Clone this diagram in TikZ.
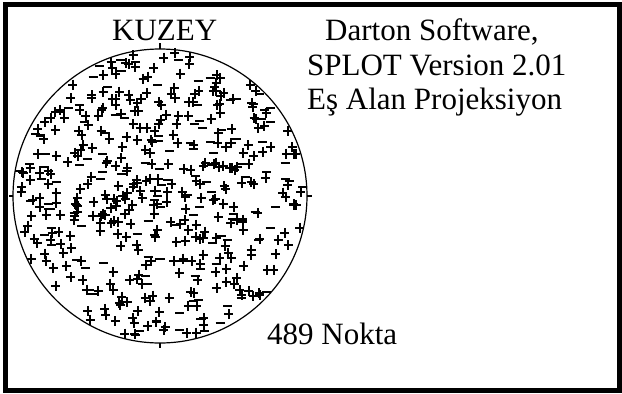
\documentclass[tikz,border=0pt]{standalone}
\usepackage{fontspec}
\setmainfont{Liberation Serif}
\begin{document}
\begin{tikzpicture}[x=1pt,y=-1pt,
  lbl/.style={font=\fontsize{31}{34}\selectfont, inner sep=0pt, anchor=base west},
  frame/.style={line width=5pt},
  rim/.style={line width=1.2pt},
  crossmark/.style={line width=2pt}]
\useasboundingbox (0,0) rectangle (622,394);
\draw[frame] (5.5,4.5) rectangle (619.5,390);
% stereonet circle
\draw[rim] (160,196) circle (147pt);
\draw[rim] (160,49) -- (160,43);
\draw[rim] (160,343) -- (160,348);
\draw[rim] (307,196) -- (312,196);
\draw[rim] (13,196) -- (9,196);
% data points
\pgfmathsetseed{4891}
\foreach \i in {1,...,489}{
  \pgfmathsetmacro\rr{144*sqrt(rnd)}
  \pgfmathsetmacro\aa{360*rnd}
  \pgfmathsetmacro\kk{rnd}
  \pgfmathsetmacro\px{160+\rr*cos(\aa)}
  \pgfmathsetmacro\py{196+\rr*sin(\aa)}
  \draw[crossmark] (\px-4.5,\py) -- (\px+4.5,\py);
  \ifdim\kk pt<0.25pt\relax\else\draw[crossmark] (\px,\py-5) -- (\px,\py+5);\fi
}
% labels
\node[lbl] (kuzey) at (112,40) {KUZEY};
\node[lbl] (l1) at (325,40) {Darton Software,};
\node[lbl] (l2) at (307,75.5) {SPLOT Version 2.01};
\node[lbl] (l3) at (307,109) {Eş Alan Projeksiyon};
\node[lbl] (nokta) at (267,344) {489 Nokta};
\end{tikzpicture}
\end{document}
